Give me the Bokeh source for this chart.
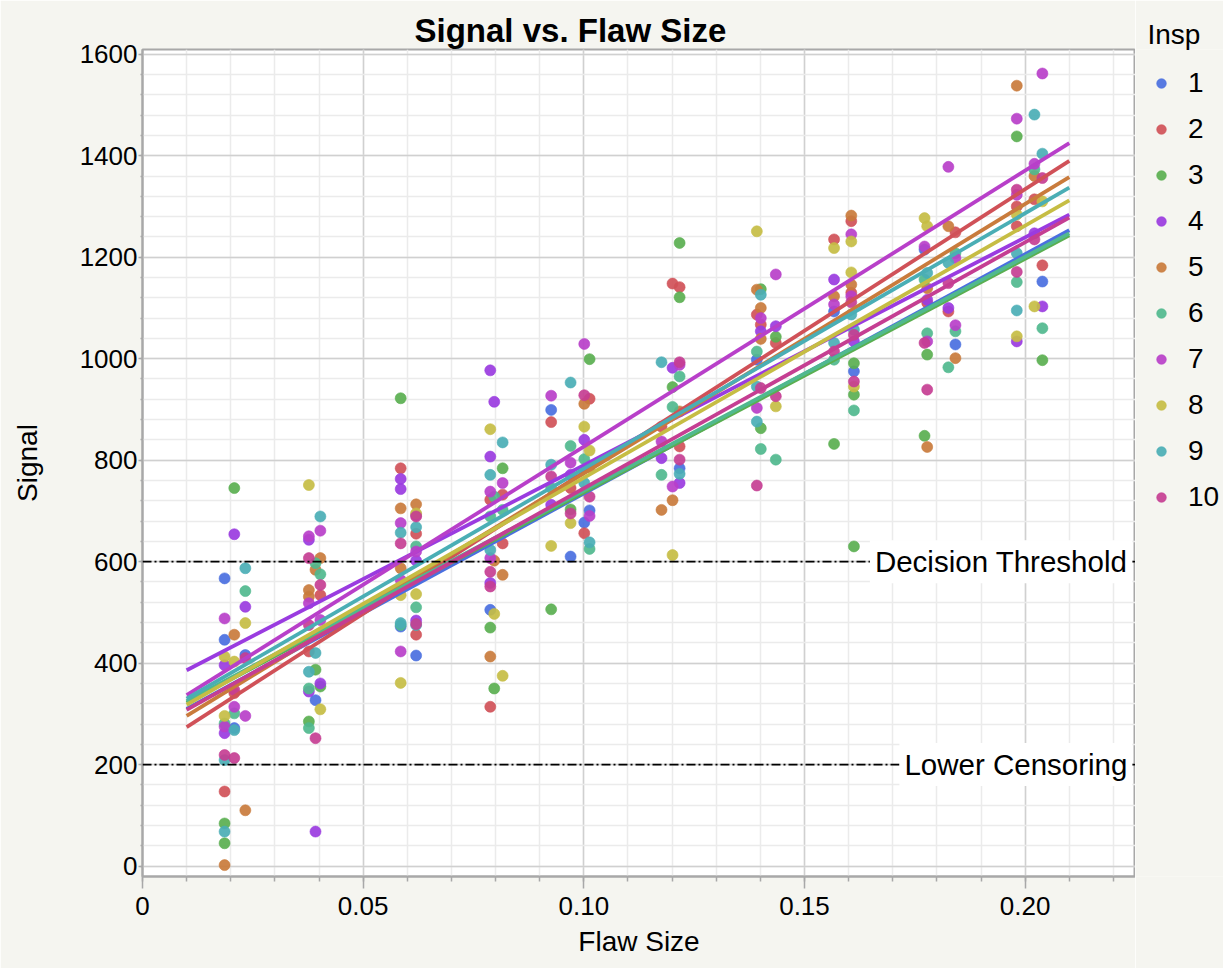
from bokeh.plotting import figure
from bokeh.layouts import row
from bokeh.models import FixedTicker, Span, Label, Legend, LegendItem, Range1d
from bokeh.embed import file_html
from bokeh.resources import INLINE

FONT = "Liberation Sans"

# ---------------- data ----------------
inspectors = [1, 2, 3, 4, 5, 6, 7, 8, 9, 10]
insp_colors = ["#4a6fe0", "#d05158", "#5aaf50", "#9a3be0", "#c97b3c",
               "#50b98e", "#b83fc9", "#c6bd44", "#4aaeb5", "#c53e92"]

flaw_sizes = [0.0186, 0.0208, 0.0233, 0.0377, 0.0392, 0.0403, 0.0585, 0.0620,
              0.0788, 0.0797, 0.0816, 0.0926, 0.0970, 0.1001, 0.1013, 0.1176,
              0.1201, 0.1217, 0.1392, 0.1401, 0.1435, 0.1567, 0.1606, 0.1612,
              0.1772, 0.1778, 0.1826, 0.1842, 0.1981, 0.2021, 0.2039]

insp_by_flaw = [
    [1, 7, 1, 8, 4, 8, 6, 4, 7, 10, 9, 2, 3, 9, 3, 5],
    [3, 4, 5, 8, 10, 2, 7, 6, 1, 9, 10],
    [9, 6, 4, 8, 1, 10, 7, 5],
    [8, 7, 4, 10, 5, 5, 7, 10, 2, 9, 4, 6, 3, 6],
    [5, 6, 9, 3, 1, 10, 4],
    [9, 7, 5, 6, 10, 2, 7, 4, 3, 8],
    [3, 2, 4, 4, 5, 7, 9, 10, 5, 7, 8, 9, 6, 1, 7, 8],
    [5, 8, 4, 10, 9, 2, 6, 7, 4, 8, 6, 4, 10, 9, 2, 1],
    [4, 8, 4, 9, 2, 7, 6, 9, 7, 10, 10, 4, 1, 3, 5, 2],
    [4, 6, 5, 8, 3],
    [9, 3, 7, 2, 6, 5, 8, 2],
    [7, 1, 2, 9, 10, 6, 4, 8, 3],
    [9, 6, 7, 4, 2, 3, 10, 8, 1],
    [7, 10, 5, 8, 4, 6, 9, 1, 2],
    [3, 2, 8, 5, 10, 1, 7, 9, 6],
    [9, 2, 7, 4, 6, 5],
    [2, 4, 3, 6, 7, 5, 8],
    [3, 2, 3, 10, 7, 6, 5, 2, 10, 1, 9, 4],
    [8, 5, 2, 6, 1, 9, 7, 9, 10],
    [3, 9, 5, 7, 2, 4, 5, 10, 3, 6],
    [7, 4, 3, 2, 10, 8, 6],
    [2, 8, 4, 5, 7, 1, 9, 10, 6, 3],
    [5, 2, 7, 8, 8, 5, 2, 7, 10, 9],
    [9, 10, 4, 3, 1, 10, 8, 3, 6, 3],
    [8, 7, 1, 6, 10, 3],
    [8, 9, 5, 2, 4, 6, 7, 3, 10, 5],
    [7, 5, 9, 10, 4, 2, 6],
    [2, 6, 7, 7, 6, 1, 5],
    [5, 7, 3, 10, 7, 2, 8, 2, 9, 10, 6, 9, 8, 4],
    [9, 7, 6, 5, 2, 4, 10, 8],
    [7, 9, 10, 8, 2, 1, 4, 6, 3],
]

signal_by_flaw = [
    [567, 488, 446, 413, 396, 296, 281, 262, 275, 219, 209, 147, 84, 68, 45, 2],
    [745, 654, 456, 403, 347, 341, 314, 301, 272, 268, 213],
    [587, 542, 511, 479, 416, 410, 296, 110],
    [751, 650, 643, 607, 544, 531, 518, 475, 423, 383, 344, 350, 285, 272],
    [584, 597, 420, 387, 327, 252, 68],
    [689, 661, 607, 575, 554, 534, 485, 360, 354, 309],
    [922, 784, 763, 743, 705, 676, 657, 636, 587, 564, 534, 479, 475, 472, 423, 361],
    [713, 695, 692, 689, 668, 655, 630, 620, 602, 536, 510, 484, 477, 475, 456, 415],
    [977, 861, 807, 771, 722, 738, 689, 623, 607, 580, 551, 558, 505, 470, 413, 314],
    [915, 728, 602, 497, 350],
    [835, 784, 755, 732, 702, 574, 375, 636],
    [927, 899, 875, 791, 768, 745, 712, 631, 506],
    [953, 828, 795, 771, 745, 703, 695, 676, 610],
    [1029, 928, 911, 866, 840, 802, 755, 677, 656],
    [999, 921, 819, 786, 728, 701, 690, 638, 625],
    [993, 866, 837, 804, 771, 702],
    [1148, 982, 944, 905, 748, 721, 613],
    [1228, 1141, 1121, 993, 988, 965, 896, 827, 801, 784, 773, 755],
    [1251, 1136, 1087, 1014, 998, 945, 903, 876, 750],
    [1137, 1126, 1100, 1080, 1067, 1054, 1039, 942, 863, 822],
    [1166, 1064, 1043, 1031, 926, 906, 801],
    [1235, 1218, 1156, 1123, 1107, 1093, 1031, 1014, 998, 832],
    [1282, 1271, 1245, 1231, 1170, 1146, 1130, 1123, 1111, 1087],
    [1057, 1047, 1034, 991, 975, 955, 945, 929, 898, 630],
    [1277, 1221, 1215, 1156, 1031, 848],
    [1261, 1169, 1139, 1110, 1116, 1050, 1034, 1008, 939, 826],
    [1378, 1261, 1189, 1149, 1100, 1093, 983],
    [1249, 1208, 1198, 1066, 1054, 1028, 1001],
    [1538, 1473, 1438, 1333, 1323, 1300, 1284, 1261, 1208, 1171, 1151, 1095, 1044, 1034],
    [1481, 1384, 1373, 1360, 1314, 1247, 1235, 1103],
    [1562, 1404, 1356, 1310, 1184, 1152, 1103, 1060, 997],
]

# fitted lines per inspector: signal at the two ends of the fit
fit_x = [0.01, 0.21]
fit_start = [310, 274, 322, 386, 296, 325, 337, 318, 330, 308]
fit_end = [1253, 1390, 1243, 1284, 1358, 1247, 1425, 1312, 1337, 1278]

ref_values = [600, 200]
ref_labels = ["Decision Threshold", "Lower Censoring"]

x_tick_values = [0, 0.05, 0.10, 0.15, 0.20]
x_tick_labels = ["0", "0.05", "0.10", "0.15", "0.20"]
y_tick_values = [0, 200, 400, 600, 800, 1000, 1200, 1400, 1600]
y_tick_labels = ["0", "200", "400", "600", "800", "1000", "1200", "1400", "1600"]


def inspector_points(ins):
    xs, ys = [], []
    for fx, ilist, slist in zip(flaw_sizes, insp_by_flaw, signal_by_flaw):
        for i, s in zip(ilist, slist):
            if i == ins:
                xs.append(fx)
                ys.append(s)
    return xs, ys


# ---------------- main figure ----------------
BG = "#f5f5f0"
p = figure(width=1135, height=968,
           x_range=Range1d(0, 0.225), y_range=Range1d(-20.5, 1609.3),
           output_backend="svg", toolbar_location=None,
           min_border_left=142, min_border_right=0,
           min_border_top=49, min_border_bottom=92)
p.background_fill_color = "white"
p.border_fill_color = BG
p.outline_line_color = "#a8a8a8"
p.outline_line_width = 2

p.title.text = "Signal vs. Flaw Size"
p.title.text_font = FONT
p.title.text_font_size = "33px"
p.title.text_font_style = "bold"
p.title.text_color = "black"
p.title.align = "left"
p.title.offset = 272
p.title.standoff = 2

x_minor = [round(0.01 * i, 2) for i in range(23)]
y_minor = [40 * i for i in range(41)]
xt = FixedTicker(ticks=x_tick_values, minor_ticks=x_minor)
yt = FixedTicker(ticks=y_tick_values, minor_ticks=y_minor)
p.xaxis.ticker = xt
p.yaxis.ticker = yt
p.xgrid.ticker = xt
p.ygrid.ticker = yt
p.xaxis.major_label_overrides = dict(zip(x_tick_values, x_tick_labels))
p.yaxis.major_label_overrides = dict(zip(y_tick_values, y_tick_labels))

for g in (p.xgrid, p.ygrid):
    g.grid_line_color = "#d0d0d0"
    g.grid_line_width = 1.5
    g.minor_grid_line_color = "#ebebeb"
    g.minor_grid_line_width = 1.5

for ax in (p.xaxis, p.yaxis):
    ax.axis_line_color = "#a8a8a8"
    ax.axis_line_width = 2
    ax.major_tick_line_color = "#a8a8a8"
    ax.minor_tick_line_color = "#a8a8a8"
    ax.major_tick_line_width = 1.5
    ax.minor_tick_line_width = 1.5
    ax.major_tick_in = 0
    ax.minor_tick_in = 0
    ax.major_label_text_font = FONT
    ax.major_label_text_font_size = "26px"
    ax.major_label_text_color = "black"
    ax.axis_label_text_font = FONT
    ax.axis_label_text_font_size = "28px"
    ax.axis_label_text_font_style = "normal"
    ax.axis_label_text_color = "black"

p.xaxis.major_tick_out = 12
p.xaxis.minor_tick_out = 5
p.xaxis.major_label_standoff = 8
p.xaxis.axis_label = "Flaw Size"
p.xaxis.axis_label_standoff = 8

p.yaxis.major_tick_out = 4
p.yaxis.minor_tick_out = 2
p.yaxis.major_label_standoff = 1
p.yaxis.axis_label = "Signal"
p.yaxis.axis_label_standoff = 34

# points
for k, ins in enumerate(inspectors):
    xs, ys = inspector_points(ins)
    p.scatter(xs, ys, size=11, fill_color=insp_colors[k], line_color=insp_colors[k],
              fill_alpha=0.92, line_alpha=0.6)

# fitted lines
for k, ins in enumerate(inspectors):
    p.line(fit_x, [fit_start[k], fit_end[k]], line_color=insp_colors[k], line_width=3.8)

# reference lines
for v, t in zip(ref_values, ref_labels):
    p.add_layout(Span(location=v, dimension="width", line_color="black",
                      line_width=1.6, line_dash="9 3 2 3"))
    p.add_layout(Label(x=0.2243, y=v, text=t, text_align="right", text_baseline="middle",
                       text_font=FONT, text_font_size="29.5px", text_color="black",
                       background_fill_color="white", padding=5))

# ---------------- legend panel ----------------
# the panel's data ranges lie outside the data, so only the legend is visible here
lg = figure(width=88, height=968, x_range=Range1d(1, 2), y_range=Range1d(5000, 6000),
            output_backend="svg", toolbar_location=None, min_border=0,
            x_axis_type=None, y_axis_type=None)
lg.background_fill_color = BG
lg.border_fill_color = BG
lg.outline_line_color = None
lg.grid.visible = False

lg.title.text = "Insp"
lg.title.text_font = FONT
lg.title.text_font_size = "28px"
lg.title.text_font_style = "normal"
lg.title.text_color = "black"
lg.title.align = "left"
lg.title.offset = 12
lg.title.standoff = 0

legend_renderers = []
for k, ins in enumerate(inspectors):
    xs, ys = inspector_points(ins)
    r = lg.scatter(xs, ys, size=10, fill_color=insp_colors[k],
                   line_color=insp_colors[k], fill_alpha=0.92, line_alpha=0.6)
    legend_renderers.append(r)

legend = Legend(items=[LegendItem(label=str(ins), renderers=[legend_renderers[k]])
                       for k, ins in enumerate(inspectors)],
                location=(14, 356),
                glyph_width=24, glyph_height=46, label_height=46, spacing=0,
                padding=0, margin=0, label_standoff=15,
                background_fill_alpha=0, border_line_alpha=0,
                label_text_font=FONT, label_text_font_size="28px",
                label_text_color="black")
lg.add_layout(legend)

layout = row(p, lg, spacing=0)
open("out.html", "w").write(file_html(layout, INLINE))
